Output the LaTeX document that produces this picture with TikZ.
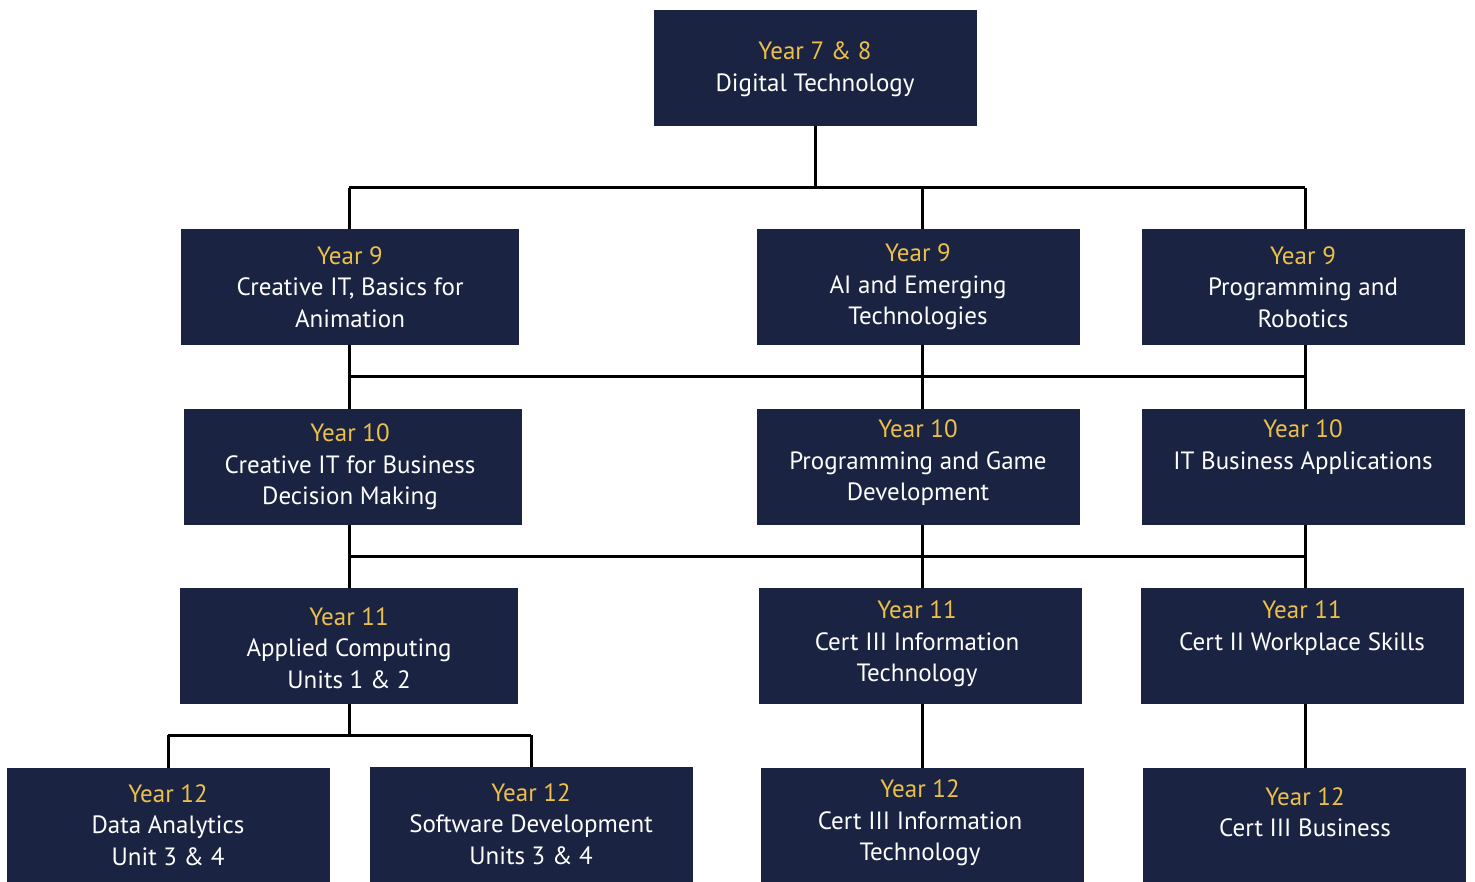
\documentclass[tikz,border=0pt]{standalone}
\usepackage{fontspec}
\setmainfont{PT Sans}
\definecolor{navy}{HTML}{1A2442}
\definecolor{gold}{HTML}{EDC04A}
\begin{document}
\begin{tikzpicture}[x=1pt,y=-1pt,
  box/.style={draw=none,fill=navy,minimum height=116pt,inner sep=0pt},
  wbox/.style={box,minimum width=338pt},
  nbox/.style={box,minimum width=323pt},
  txt/.style={text=white,align=center,font=\fontsize{25}{31.5}\selectfont,inner sep=0pt},
  link/.style={draw=black,line width=3pt}]
\useasboundingbox (0,0) rectangle (1475,882);
\newcommand{\yr}[1]{\textcolor{gold}{#1}}

% columns of the connector lines
\coordinate (colA) at (349,0);
\coordinate (colB) at (922,0);
\coordinate (colC) at (1305,0);
\coordinate (colD) at (168,0);
\coordinate (colE) at (531,0);
% horizontal buses
\coordinate (bus1) at (0,188);
\coordinate (bus2) at (0,377);
\coordinate (bus3) at (0,556);
\coordinate (bus4) at (0,735);

% boxes
\node[nbox] (top) at (815.5,68) {};
\node[wbox] (y9a) at (350,287) {};
\node[nbox] (y9b) at (918.5,287) {};
\node[nbox] (y9c) at (1303.5,287) {};
\node[wbox] (y10a) at (353,467) {};
\node[nbox] (y10b) at (918.5,467) {};
\node[nbox] (y10c) at (1303.5,467) {};
\node[wbox] (y11a) at (349,646) {};
\node[nbox] (y11b) at (920.5,646) {};
\node[nbox] (y11c) at (1302.5,646) {};
\node[nbox] (y12a) at (168.5,826) {};
\node[nbox] (y12b) at (531.5,825) {};
\node[nbox] (y12c) at (922.5,826) {};
\node[nbox] (y12d) at (1304.5,826) {};

% labels
\node[txt] (t-top) at (815,69.5) {\yr{Year 7 \& 8}\\Digital Technology};
\node[txt] (t-y9a) at (350,287) {\yr{Year 9}\\Creative IT, Basics for\\Animation};
\node[txt] (t-y9b) at (918,287) {\yr{Year 9}\\AI and Emerging\\Technologies};
\node[txt] (t-y9c) at (1303,287) {\yr{Year 9}\\Programming and\\Robotics};
\node[txt] (t-y10a) at (350,467) {\yr{Year 10}\\Creative IT for Business\\Decision Making};
\node[txt] (t-y10b) at (918,463) {\yr{Year 10}\\Programming and Game\\Development};
\node[txt] (t-y10c) at (1303,447) {\yr{Year 10}\\IT Business Applications};
\node[txt] (t-y11a) at (349,648) {\yr{Year 11}\\Applied Computing\\Units 1 \& 2};
\node[txt] (t-y11b) at (917,644) {\yr{Year 11}\\Cert III Information\\Technology};
\node[txt] (t-y11c) at (1302,628) {\yr{Year 11}\\Cert II Workplace Skills};
\node[txt] (t-y12a) at (168,825) {\yr{Year 12}\\Data Analytics\\Unit 3 \& 4};
\node[txt] (t-y12b) at (531,824) {\yr{Year 12}\\Software Development\\Units 3 \& 4};
\node[txt] (t-y12c) at (920,823) {\yr{Year 12}\\Cert III Information\\Technology};
\node[txt] (t-y12d) at (1305,812) {\yr{Year 12}\\Cert III Business};

% Year 7 & 8 to Year 9
\draw[link] (top.south) -- (top.south |- bus1);
\draw[link] (colA |- bus1) -- (colC |- bus1);
\draw[link] (colA |- bus1) -- (y9a.north -| colA);
\draw[link] (colB |- bus1) -- (y9b.north -| colB);
\draw[link] (colC |- bus1) -- (y9c.north -| colC);
% Year 9 to Year 10
\draw[link] (y9a.south -| colA) -- (y10a.north -| colA);
\draw[link] (y9b.south -| colB) -- (y10b.north -| colB);
\draw[link] (y9c.south -| colC) -- (y10c.north -| colC);
\draw[link] (colA |- bus2) -- (colC |- bus2);
% Year 10 to Year 11
\draw[link] (y10a.south -| colA) -- (y11a.north -| colA);
\draw[link] (y10b.south -| colB) -- (y11b.north -| colB);
\draw[link] (y10c.south -| colC) -- (y11c.north -| colC);
\draw[link] (colA |- bus3) -- (colC |- bus3);
% Year 11 to Year 12
\draw[link] (y11a.south -| colA) -- (colA |- bus4);
\draw[link] (colD |- bus4) -- (colE |- bus4);
\draw[link] (colD |- bus4) -- (y12a.north -| colD);
\draw[link] (colE |- bus4) -- (y12b.north -| colE);
\draw[link] (y11b.south -| colB) -- (y12c.north -| colB);
\draw[link] (y11c.south -| colC) -- (y12d.north -| colC);
\end{tikzpicture}
\end{document}
